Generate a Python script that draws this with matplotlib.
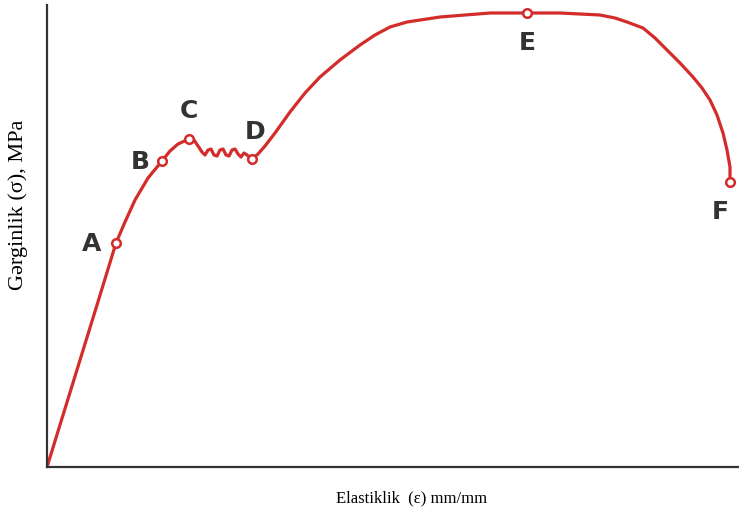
import matplotlib
matplotlib.use("Agg")
import matplotlib.pyplot as plt

# strain / stress (arbitrary units, no scale on the axes)
strain = [0, 25, 50, 69, 78, 88, 101, 115, 123, 131, 142, 147, 151, 155, 158, 161,
          164, 167, 170, 173, 176, 179, 182, 185, 188, 191, 194, 197, 200, 205, 211,
          218, 228, 243, 258, 273, 293, 313, 328, 343, 360, 393, 443, 480, 513, 553,
          568, 580, 596, 608, 620, 633, 646, 655, 663, 670, 676, 680, 683, 683]
stress = [0, 81, 162, 224, 245, 267, 289, 306, 316, 323, 328, 327, 321, 315, 312, 317,
          318, 312, 311, 317, 318, 312, 311, 317, 318, 313, 310, 314, 312, 308, 313,
          321, 334, 355, 374, 390, 407, 422, 432, 440, 445, 450, 454, 454, 454, 452,
          449, 445, 439, 429, 417, 404, 390, 379, 367, 352, 334, 317, 300, 285]

points = ["A", "B", "C", "D", "E", "F"]
point_strain = [69, 115, 142, 205, 480, 683]
point_stress = [224, 306, 328, 308, 454, 285]
label_dx = [-24, -22, 0, 3, 0, -10]
label_dy = [-1, -1, 28, 27, -30, -30]

red = "#d42b2b"

fig = plt.figure(figsize=(7.39, 5.13), dpi=100)
ax = fig.add_axes([47 / 739, 46 / 513, 692 / 739, 462 / 513])

ax.plot(strain, stress, color=red, lw=2.3, solid_joinstyle="round",
        solid_capstyle="round", zorder=2)
ax.plot(point_strain, point_stress, "o", ms=6.2, mfc="white", mec=red, mew=1.8,
        zorder=3)

for name, x, y, dx, dy in zip(points, point_strain, point_stress, label_dx, label_dy):
    ax.text(x + dx, y + dy, name, ha="center", va="center", fontsize=18,
            fontweight="bold", color="#333333", family="DejaVu Sans")

ax.set_xlim(0, 692)
ax.set_ylim(0, 462)
ax.set_xticks([])
ax.set_yticks([])
for side in ["top", "right"]:
    ax.spines[side].set_visible(False)
for side in ["left", "bottom"]:
    ax.spines[side].set_color("#333333")
    ax.spines[side].set_linewidth(1.6)

fig.text(18 / 739, 1 - 205 / 513, "Gərginlik (σ), MPa", rotation=90,
         ha="center", va="center", fontsize=16, family="Liberation Serif")
fig.text(412 / 739, 1 - 498 / 513, "Elastiklik  (ε) mm/mm", ha="center",
         va="center", fontsize=12, family="Liberation Serif")

fig.savefig("out.png", dpi=100)
